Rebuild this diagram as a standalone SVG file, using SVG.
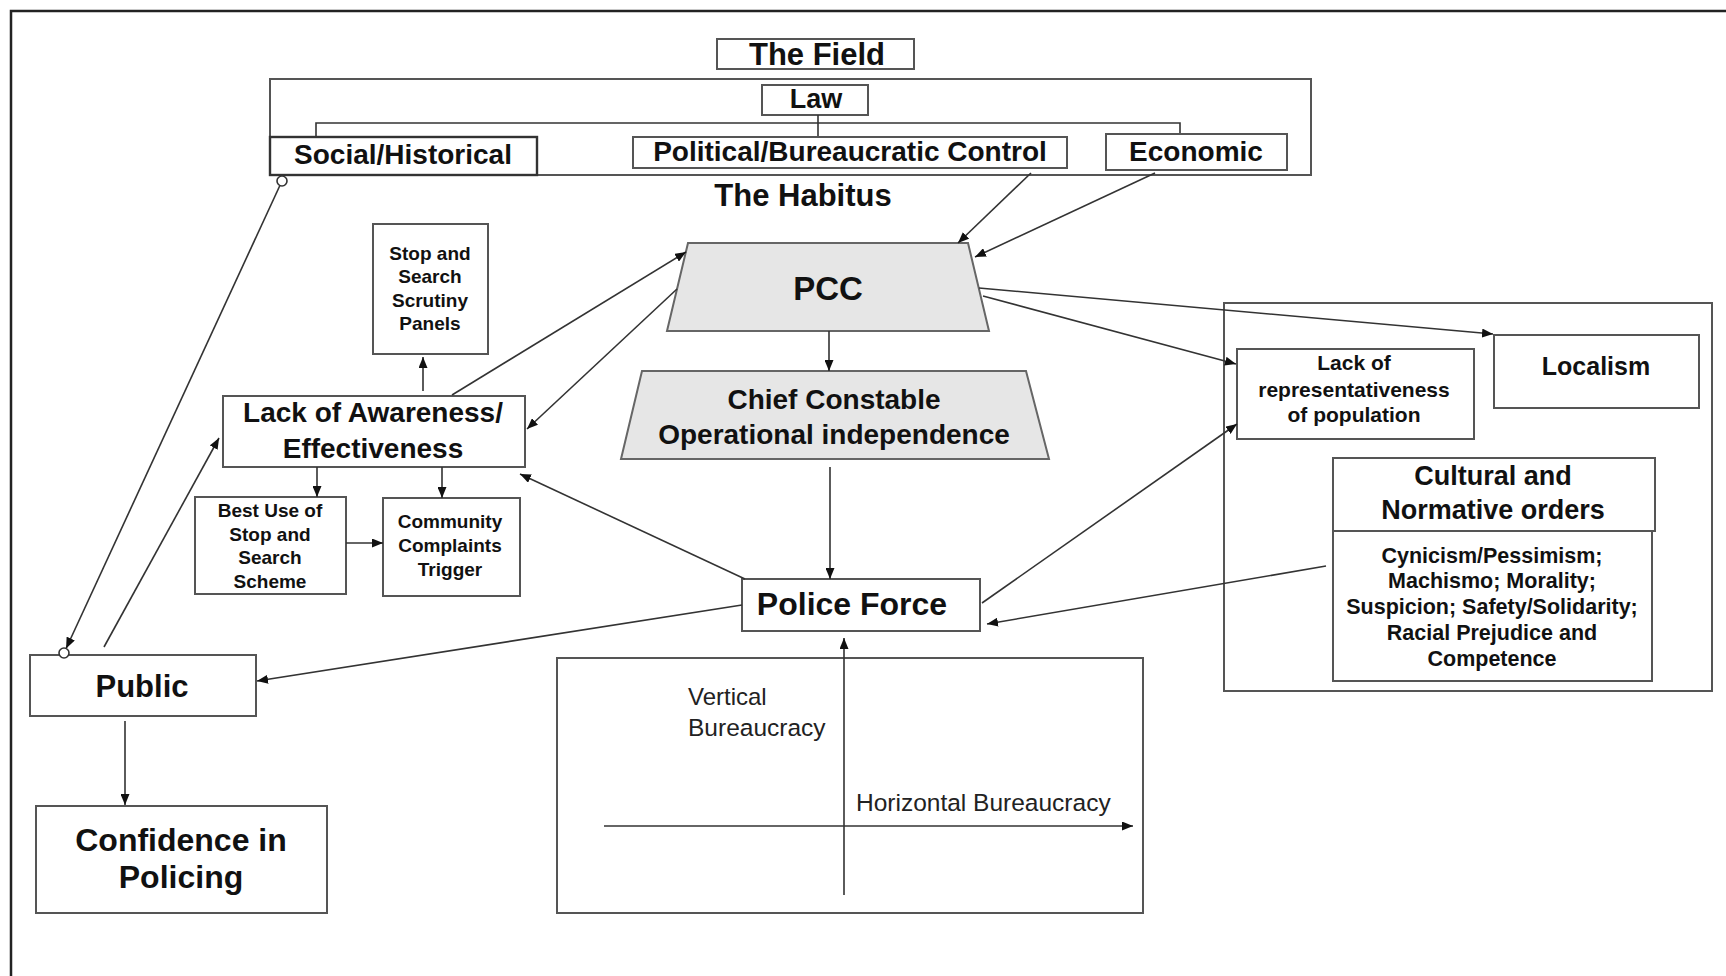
<svg xmlns="http://www.w3.org/2000/svg" width="1726" height="976" viewBox="0 0 1726 976">
  <defs>
    <marker id="arrow" markerUnits="userSpaceOnUse" markerWidth="11" markerHeight="9" refX="11" refY="4.5" orient="auto">
      <path d="M0,0 L11,4.5 L0,9 z" fill="#111"/>
    </marker>
    <style>
      .box { fill: #fff; stroke: #555; stroke-width: 2; }
      .trap { fill: #e6e6e6; stroke: #666; stroke-width: 2; }
      .frame { fill: none; stroke: #222; stroke-width: 2.5; }
      .link { fill: none; stroke: #333; stroke-width: 1.6; }
      .arr { marker-end: url(#arrow); }
      .t { font-family: "Liberation Sans", Arial, sans-serif; font-weight: bold; fill: #111; text-anchor: middle; }
      .r { font-family: "Liberation Sans", Arial, sans-serif; font-weight: normal; fill: #222; }
      .dot { fill: #fff; stroke: #333; stroke-width: 1.6; }
    </style>
  </defs>

  <rect width="1726" height="976" fill="#fff"/>

  <!-- outer frame (top and left edges) -->
  <path class="frame" d="M11,976 L11,11 L1726,11"/>

  <!-- the field -->
  <g id="field">
    <rect class="box" x="717" y="39" width="197" height="30"/>
    <text class="t" x="817" y="65" font-size="31">The Field</text>
  </g>

  <g id="habitus">
    <rect class="box" x="270" y="79" width="1041" height="96"/>
    <text class="t" x="803" y="206" font-size="31">The Habitus</text>
  </g>

  <g id="law">
    <rect class="box" x="762" y="85" width="106" height="30"/>
    <text class="t" x="816" y="108" font-size="27">Law</text>
  </g>

  <!-- bracket joining the three field components -->
  <g id="field-bracket">
    <path class="link" d="M316,137 L316,123 L1180,123 L1180,134"/>
    <path class="link" d="M818,115 L818,137"/>
  </g>

  <g id="social-historical">
    <rect class="box" x="270" y="137" width="267" height="38" style="stroke:#333;stroke-width:2.4"/>
    <text class="t" x="403" y="164" font-size="28">Social/Historical</text>
  </g>

  <g id="political">
    <rect class="box" x="633" y="137" width="434" height="31"/>
    <text class="t" x="850" y="161" font-size="28">Political/Bureaucratic Control</text>
  </g>

  <g id="economic">
    <rect class="box" x="1106" y="134" width="181" height="36"/>
    <text class="t" x="1196" y="161" font-size="28">Economic</text>
  </g>

  <!-- right-hand cluster container -->
  <g id="local-context">
    <rect class="box" x="1224" y="303" width="488" height="388"/>
  </g>

  <g id="pcc">
    <polygon class="trap" points="688,243 968,243 989,331 667,331"/>
    <text class="t" x="828" y="300" font-size="33">PCC</text>
  </g>

  <g id="chief-constable">
    <polygon class="trap" points="642,371 1026,371 1049,459 621,459"/>
    <text class="t" x="834" y="409" font-size="28">Chief Constable</text>
    <text class="t" x="834" y="444" font-size="28">Operational independence</text>
  </g>

  <g id="police-force">
    <rect class="box" x="742" y="579" width="238" height="52"/>
    <text class="t" x="852" y="615" font-size="32">Police Force</text>
  </g>

  <g id="stop-search-panels">
    <rect class="box" x="373" y="224" width="115" height="130"/>
    <text class="t" x="430" y="260" font-size="19">Stop and</text>
    <text class="t" x="430" y="283" font-size="19">Search</text>
    <text class="t" x="430" y="307" font-size="19">Scrutiny</text>
    <text class="t" x="430" y="330" font-size="19">Panels</text>
  </g>

  <g id="lack-awareness">
    <rect class="box" x="223" y="396" width="302" height="71"/>
    <text class="t" x="373" y="422" font-size="28">Lack of Awareness/</text>
    <text class="t" x="373" y="458" font-size="28">Effectiveness</text>
  </g>

  <g id="best-use">
    <rect class="box" x="195" y="497" width="151" height="97"/>
    <text class="t" x="270" y="517" font-size="19">Best Use of</text>
    <text class="t" x="270" y="541" font-size="19">Stop and</text>
    <text class="t" x="270" y="564" font-size="19">Search</text>
    <text class="t" x="270" y="588" font-size="19">Scheme</text>
  </g>

  <g id="community-complaints">
    <rect class="box" x="383" y="498" width="137" height="98"/>
    <text class="t" x="450" y="528" font-size="19">Community</text>
    <text class="t" x="450" y="552" font-size="19">Complaints</text>
    <text class="t" x="450" y="576" font-size="19">Trigger</text>
  </g>

  <g id="public">
    <rect class="box" x="30" y="655" width="226" height="61"/>
    <text class="t" x="142" y="697" font-size="31">Public</text>
  </g>

  <g id="confidence">
    <rect class="box" x="36" y="806" width="291" height="107"/>
    <text class="t" x="181" y="851" font-size="32">Confidence in</text>
    <text class="t" x="181" y="888" font-size="32">Policing</text>
  </g>

  <g id="representativeness">
    <rect class="box" x="1237" y="349" width="237" height="90"/>
    <text class="t" x="1354" y="370" font-size="21">Lack of</text>
    <text class="t" x="1354" y="397" font-size="21">representativeness</text>
    <text class="t" x="1354" y="422" font-size="21">of population</text>
  </g>

  <g id="localism">
    <rect class="box" x="1494" y="335" width="205" height="73"/>
    <text class="t" x="1596" y="375" font-size="25">Localism</text>
  </g>

  <g id="cultural-orders">
    <rect class="box" x="1333" y="531" width="319" height="150"/>
    <rect class="box" x="1333" y="458" width="322" height="73"/>
    <text class="t" x="1493" y="485" font-size="27">Cultural and</text>
    <text class="t" x="1493" y="519" font-size="27">Normative orders</text>
    <text class="t" x="1492" y="563" font-size="21.5">Cynicism/Pessimism;</text>
    <text class="t" x="1492" y="588" font-size="21.5">Machismo; Morality;</text>
    <text class="t" x="1492" y="614" font-size="21.5">Suspicion; Safety/Solidarity;</text>
    <text class="t" x="1492" y="640" font-size="21.5">Racial Prejudice and</text>
    <text class="t" x="1492" y="666" font-size="21.5">Competence</text>
  </g>

  <g id="bureaucracy">
    <rect class="box" x="557" y="658" width="586" height="255"/>
    <text class="r" x="688" y="705" font-size="24">Vertical</text>
    <text class="r" x="688" y="736" font-size="24.5">Bureaucracy</text>
    <text class="r" x="856" y="811" font-size="24.5">Horizontal Bureaucracy</text>
  </g>

  <!-- connectors -->
  <g id="connectors">
    <line class="link arr" x1="1031" y1="173" x2="958" y2="243"/>
    <line class="link arr" x1="1155" y1="173" x2="975" y2="257"/>

    <line class="link arr" x1="279.9" y1="185.5" x2="66.1" y2="648.5"/>
    <circle class="dot" cx="282" cy="181" r="5"/>
    <circle class="dot" cx="64" cy="653" r="5"/>

    <line class="link arr" x1="104" y1="647" x2="219" y2="438"/>
    <line class="link arr" x1="423" y1="391" x2="423" y2="357"/>
    <line class="link arr" x1="317" y1="467" x2="317" y2="497"/>
    <line class="link arr" x1="442" y1="467" x2="442" y2="498"/>
    <line class="link arr" x1="346" y1="543" x2="383" y2="543"/>

    <line class="link arr" x1="452" y1="395" x2="686" y2="252"/>
    <line class="link arr" x1="677" y1="289" x2="527" y2="429"/>
    <line class="link arr" x1="745" y1="579" x2="520" y2="474"/>

    <line class="link arr" x1="829" y1="331" x2="829" y2="371"/>
    <line class="link arr" x1="830" y1="467" x2="830" y2="579"/>

    <line class="link arr" x1="742" y1="605" x2="257" y2="681"/>
    <line class="link arr" x1="125" y1="721" x2="125" y2="805"/>

    <line class="link arr" x1="979" y1="288" x2="1493" y2="334"/>
    <line class="link arr" x1="983" y1="296" x2="1236" y2="364"/>
    <line class="link arr" x1="982" y1="603" x2="1237" y2="424"/>
    <line class="link arr" x1="1326" y1="566" x2="987" y2="624"/>

    <line class="link arr" x1="844" y1="895" x2="844" y2="638"/>
    <line class="link arr" x1="604" y1="826" x2="1133" y2="826"/>
  </g>
</svg>
